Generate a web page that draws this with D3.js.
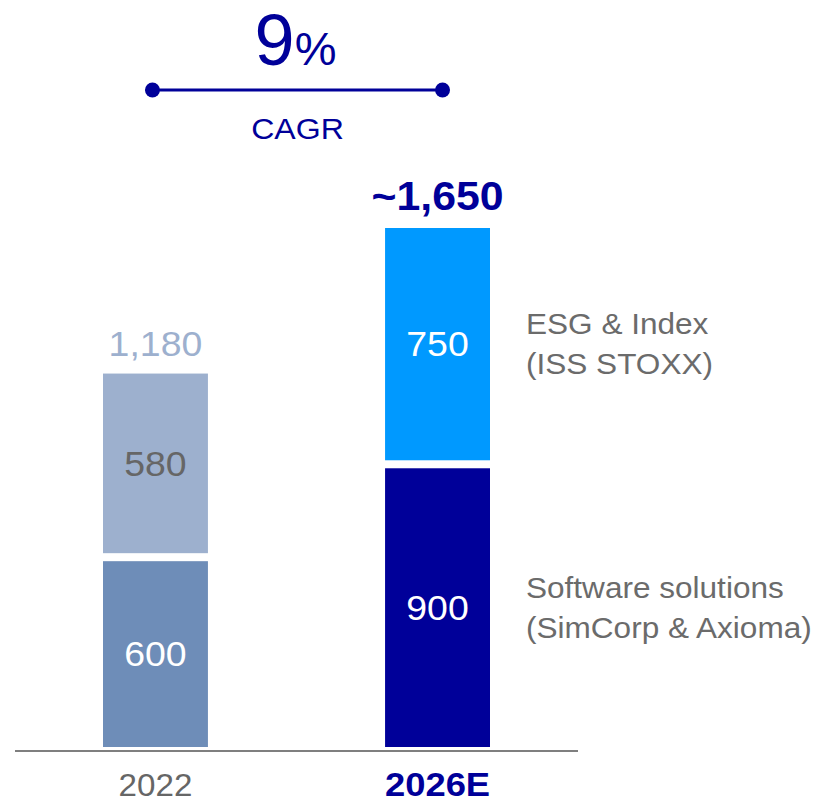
<!DOCTYPE html>
<html>
<head>
<meta charset="utf-8">
<script src="https://cdn.jsdelivr.net/npm/d3@7"></script>
<style>
  body { margin: 0; background: #fff; }
  svg text { font-family: "Liberation Sans", Arial, sans-serif; }
</style>
</head>
<body>
<svg id="chart" width="814" height="802"></svg>
<script>
// chart data
const years = ["2022", "2026E"];
const softwareValues = [600, 900];
const esgValues = [580, 750];
const totalLabels = ["1,180", "~1,650"];
const segmentNames = [["ESG & Index", "(ISS STOXX)"], ["Software solutions", "(SimCorp & Axioma)"]];
const cagrValue = "9";
const cagrLabel = "CAGR";

const rows = years.map((year, i) => ({
  year: year,
  software: softwareValues[i],
  esg: esgValues[i],
  total: softwareValues[i] + esgValues[i],
  totalLabel: totalLabels[i],
  estimate: i === 1
}));

const svg = d3.select("#chart");
const gap = 8;
const stretch = 1.07; // the source font runs a bit wider than Arial

// place text with a small horizontal stretch
const at = (x, y) => `translate(${ x }, ${ y }) scale(${ stretch }, 1)`;

const colors = {
  "2022": { software: "#6E8DB8", esg: "#9DB0CE", total: "#9DB0CE", softText: "#ffffff", esgText: "#666666" },
  "2026E": { software: "#000099", esg: "#0099FF", total: "#000099", softText: "#ffffff", esgText: "#ffffff" }
};

const x = d3.scaleBand()
  .domain(years)
  .range([15, 578])
  .paddingInner(0.628)
  .paddingOuter(0.312);

const y = d3.scaleLinear()
  .domain([0, 1650])
  .range([747, 236]);

const cx = d => x(d.year) + x.bandwidth() / 2;

// Axis line at the bottom
svg.append("line")
  .attr("x1", 15)
  .attr("x2", 578)
  .attr("y1", 751)
  .attr("y2", 751)
  .attr("stroke", "#7f7f7f")
  .attr("stroke-width", 2);

// Software segments (bottom)
svg.selectAll(".seg-soft")
  .data(rows)
  .enter()
  .append("rect")
  .attr("class", "seg-soft")
  .attr("x", d => x(d.year))
  .attr("width", x.bandwidth())
  .attr("y", d => y(d.software))
  .attr("height", d => y(0) - y(d.software))
  .attr("fill", d => colors[d.year].software);

// ESG segments (top), lifted by the gap
svg.selectAll(".seg-esg")
  .data(rows)
  .enter()
  .append("rect")
  .attr("class", "seg-esg")
  .attr("x", d => x(d.year))
  .attr("width", x.bandwidth())
  .attr("y", d => y(d.total) - gap)
  .attr("height", d => y(d.software) - y(d.total))
  .attr("fill", d => colors[d.year].esg);

// Segment values
svg.selectAll(".val-soft")
  .data(rows)
  .enter()
  .append("text")
  .attr("transform", d => at(cx(d), (y(0) + y(d.software)) / 2))
  .attr("dy", "0.35em")
  .attr("text-anchor", "middle")
  .style("font-size", "35px")
  .style("fill", d => colors[d.year].softText)
  .text(d => d.software);

svg.selectAll(".val-esg")
  .data(rows)
  .enter()
  .append("text")
  .attr("transform", d => at(cx(d), (y(d.software) + y(d.total)) / 2 - gap))
  .attr("dy", "0.35em")
  .attr("text-anchor", "middle")
  .style("font-size", "35px")
  .style("fill", d => colors[d.year].esgText)
  .text(d => d.esg);

// Totals above bars
svg.selectAll(".total")
  .data(rows)
  .enter()
  .append("text")
  .attr("transform", d => at(cx(d), y(d.total) - gap - 18))
  .attr("text-anchor", "middle")
  .style("font-size", d => d.estimate ? "40px" : "35px")
  .style("font-weight", d => d.estimate ? "bold" : "normal")
  .style("fill", d => colors[d.year].total)
  .text(d => d.totalLabel);

// Year labels
svg.selectAll(".year")
  .data(rows)
  .enter()
  .append("text")
  .attr("transform", d => at(cx(d), 796))
  .attr("text-anchor", "middle")
  .style("font-size", d => d.estimate ? "34px" : "31px")
  .style("font-weight", d => d.estimate ? "bold" : "normal")
  .style("fill", d => d.estimate ? "#000099" : "#666666")
  .text(d => d.year);

// Segment names to the right of the 2026E bar
const last = rows[rows.length - 1];
const nameX = x(last.year) + x.bandwidth() + 36;
const nameY = [
  (y(last.software) + y(last.total)) / 2 - gap,
  (y(0) + y(last.software)) / 2
];
segmentNames.forEach((lines, i) => {
  const t = svg.append("text")
    .attr("transform", at(nameX, nameY[i] - 20))
    .style("font-size", "29.5px")
    .style("fill", "#6b6b6b");
  lines.forEach((line, j) => {
    t.append("tspan")
      .attr("x", 0)
      .attr("dy", j === 0 ? "0.35em" : "40px")
      .text(line);
  });
});

// CAGR annotation
const c1 = cx(rows[0]) - 3;
const c2 = cx(rows[1]) + 5;
const cMid = (c1 + c2) / 2;
const navy = "#000099";

svg.append("line")
  .attr("x1", c1).attr("x2", c2)
  .attr("y1", 90).attr("y2", 90)
  .attr("stroke", navy)
  .attr("stroke-width", 3);

svg.selectAll(".cagr-dot")
  .data([c1, c2])
  .enter()
  .append("circle")
  .attr("cx", d => d)
  .attr("cy", 90)
  .attr("r", 7.5)
  .attr("fill", navy);

const pct = svg.append("text")
  .attr("x", cMid - 2)
  .attr("y", 65)
  .attr("text-anchor", "middle")
  .style("fill", navy);
pct.append("tspan").style("font-size", "72px").text(cagrValue);
pct.append("tspan").style("font-size", "47px").text("%");

svg.append("text")
  .attr("transform", at(cMid, 139))
  .attr("text-anchor", "middle")
  .style("font-size", "30px")
  .style("fill", navy)
  .text(cagrLabel);
</script>
</body>
</html>
